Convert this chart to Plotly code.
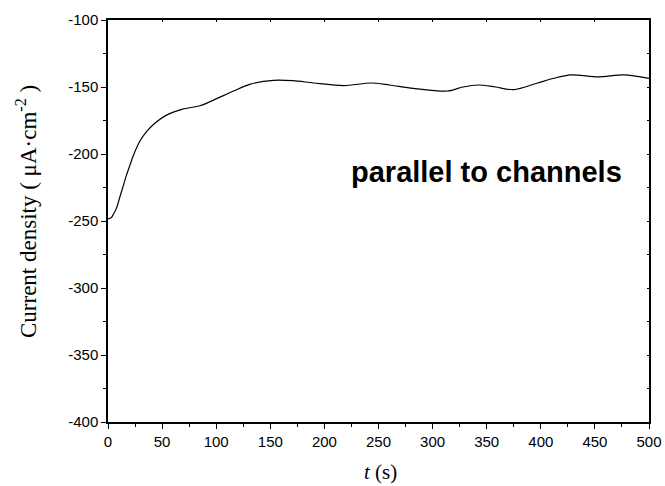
import plotly.graph_objects as go

t_s = [0, 3, 5, 8, 11, 14, 17, 20, 23, 29, 36, 42, 54, 69, 85, 97, 116, 131, 153, 171, 190, 218, 243, 260, 282, 314, 328, 342, 358, 375, 397, 412, 428, 453, 477, 500]
current = [-248.5, -247.5, -245, -240, -232, -224, -216, -209, -202, -191, -183, -178, -171, -166.5, -164, -160, -153, -148, -145, -145.3, -147, -149, -147, -148.5, -151, -153, -150, -148.5, -150, -152, -147, -143.5, -141, -142.5, -141, -143.5]

x_ticks = [0, 50, 100, 150, 200, 250, 300, 350, 400, 450, 500]
x_labels = ["0", "50", "100", "150", "200", "250", "300", "350", "400", "450", "500"]
y_ticks = [-400, -350, -300, -250, -200, -150, -100]
y_labels = ["-400", "-350", "-300", "-250", "-200", "-150", "-100"]

fig = go.Figure()
fig.add_trace(go.Scatter(x=t_s, y=current, mode="lines",
                         line=dict(color="black", width=1.2, shape="spline", smoothing=0.8),
                         showlegend=False, hoverinfo="skip"))

axis_font = dict(family="Liberation Sans, Arial", size=15, color="black")
fig.update_layout(
    width=665, height=486,
    margin=dict(l=108, r=16, t=20, b=64),
    paper_bgcolor="white", plot_bgcolor="white",
    xaxis=dict(range=[0, 500], tickvals=x_ticks, ticktext=x_labels, ticks="outside", ticklen=5, tickwidth=1.2,
               tickcolor="black", showline=True, linecolor="black", linewidth=1.5, automargin=False,
               showgrid=False, zeroline=False, tickfont=axis_font,
               minor=dict(dtick=25, ticks="outside", ticklen=3, tickwidth=1.2, tickcolor="black", showgrid=False)),
    yaxis=dict(range=[-400, -100], tickvals=y_ticks, ticktext=y_labels, ticks="outside", ticklen=5, tickwidth=1.2,
               tickcolor="black", showline=True, linecolor="black", linewidth=1.5, automargin=False,
               showgrid=False, zeroline=False, tickfont=axis_font,
               minor=dict(dtick=25, ticks="outside", ticklen=3, tickwidth=1.2, tickcolor="black", showgrid=False)),
    xaxis2=dict(range=[0, 500], overlaying="x", side="top", tickvals=x_ticks, ticks="inside", ticklen=2,
                tickcolor="black", showticklabels=False, showline=True, linecolor="black", linewidth=1.5,
                showgrid=False, zeroline=False, automargin=False),
    yaxis2=dict(range=[-400, -100], overlaying="y", side="right", tickvals=y_ticks, ticks="inside", ticklen=2,
                tickcolor="black", showticklabels=False, showline=True, linecolor="black", linewidth=1.5,
                showgrid=False, zeroline=False, automargin=False,
                minor=dict(dtick=25, ticks="inside", ticklen=2, tickcolor="black", showgrid=False)),
    annotations=[
        dict(x=350, y=-213.5, xref="x", yref="y", text="<b>parallel to channels</b>", showarrow=False,
             font=dict(family="Liberation Sans, Arial", size=29, color="black")),
        dict(x=-0.1497, y=0.5224, xref="paper", yref="paper", text="Current density ( μA·cm<sup>-2</sup> )",
             textangle=-90, showarrow=False, xanchor="center", yanchor="middle",
             font=dict(family="Liberation Serif, Times New Roman", size=23, color="black")),
        dict(x=0.5046, y=-0.1244, xref="paper", yref="paper", text="<i>t</i> (s)",
             showarrow=False, xanchor="center", yanchor="middle",
             font=dict(family="Liberation Serif, Times New Roman", size=21, color="black")),
    ],
)
fig.add_trace(go.Scatter(x=[0], y=[-100], xaxis="x2", yaxis="y2", mode="markers", marker=dict(size=0.1, opacity=0),
                         showlegend=False, hoverinfo="skip"))

fig.write_html("out.html")
